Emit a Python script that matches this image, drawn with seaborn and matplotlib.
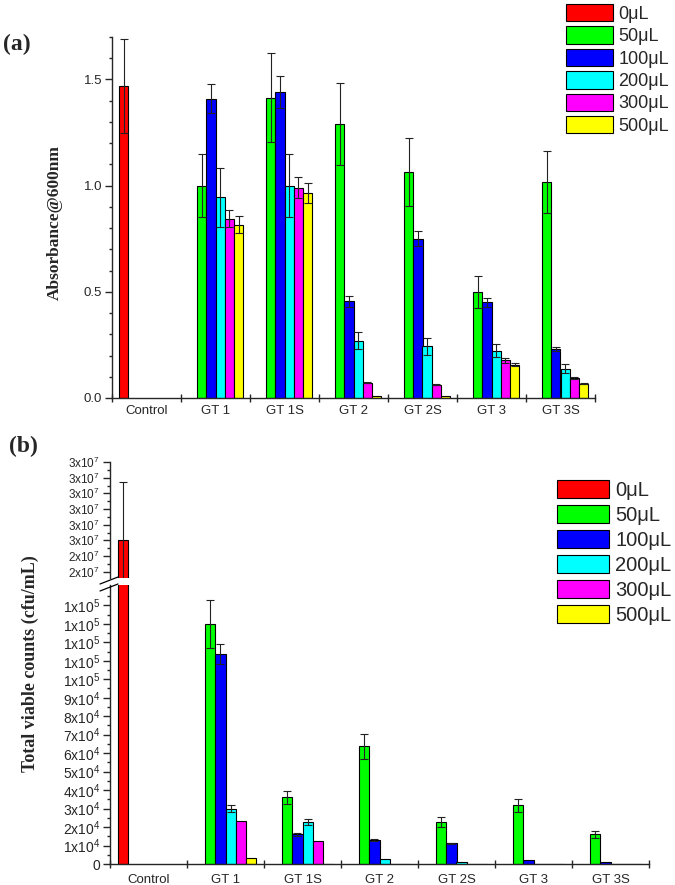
import numpy as np
import pandas as pd
import matplotlib
matplotlib.use("Agg")
import matplotlib.pyplot as plt
import matplotlib.patches as mpatches
from matplotlib.lines import Line2D
from matplotlib.ticker import MultipleLocator, FixedLocator, FuncFormatter
import seaborn as sns

# categories
samples = ["Control", "GT 1", "GT 1S", "GT 2", "GT 2S", "GT 3", "GT 3S"]
volumes = ["0μL", "50μL", "100μL", "200μL", "300μL", "500μL"]
colors = ["#FF0000", "#00FF00", "#0000FF", "#00FFFF", "#FF00FF", "#FFFF00"]

# (a) absorbance @600nm  (GT rows, columns 50..500 uL)
control_abs = 1.47
control_abs_err = 0.22
abs_gt1 = [1.00, 1.41, 0.945, 0.845, 0.815]
abs_gt1s = [1.415, 1.44, 1.00, 0.99, 0.965]
abs_gt2 = [1.29, 0.455, 0.27, 0.072, 0.008]
abs_gt2s = [1.063, 0.75, 0.243, 0.063, 0.008]
abs_gt3 = [0.50, 0.45, 0.223, 0.177, 0.157]
abs_gt3s = [1.017, 0.232, 0.138, 0.094, 0.068]
abs_err_gt1 = [0.15, 0.07, 0.14, 0.04, 0.04]
abs_err_gt1s = [0.21, 0.075, 0.15, 0.05, 0.047]
abs_err_gt2 = [0.195, 0.027, 0.04, 0.003, 0.0]
abs_err_gt2s = [0.16, 0.036, 0.04, 0.003, 0.0]
abs_err_gt3 = [0.075, 0.02, 0.03, 0.012, 0.008]
abs_err_gt3s = [0.148, 0.01, 0.02, 0.004, 0.004]

# (b) total viable counts (cfu/mL)
control_cfu = 2.5e7
control_cfu_err = 3.75e6
cfu_gt1 = [1.30e5, 1.137e5, 3.0e4, 2.32e4, 3.4e3]
cfu_gt1s = [3.6e4, 1.6e4, 2.28e4, 1.26e4, 0]
cfu_gt2 = [6.37e4, 1.31e4, 2.7e3, 0, 0]
cfu_gt2s = [2.27e4, 1.12e4, 1.0e3, 0, 0]
cfu_gt3 = [3.18e4, 2.2e3, 0, 0, 0]
cfu_gt3s = [1.6e4, 1.0e3, 0, 0, 0]
cfu_err_gt1 = [1.3e4, 5.5e3, 2.0e3, 0, 0]
cfu_err_gt1s = [3.6e3, 1.0e3, 1.6e3, 0, 0]
cfu_err_gt2 = [6.8e3, 500, 0, 0, 0]
cfu_err_gt2s = [2.5e3, 300, 0, 0, 0]
cfu_err_gt3 = [3.4e3, 0, 0, 0, 0]
cfu_err_gt3s = [1.8e3, 0, 0, 0, 0]


def long_table(control, control_err, rows, errs):
    recs = [("Control", volumes[0], control, control_err)]
    for s, vals, ers in zip(samples[1:], rows, errs):
        for v, val, er in zip(volumes[1:], vals, ers):
            recs.append((s, v, val, er))
    return pd.DataFrame(recs, columns=["sample", "volume", "value", "err"])


df_abs = long_table(control_abs, control_abs_err,
                    [abs_gt1, abs_gt1s, abs_gt2, abs_gt2s, abs_gt3, abs_gt3s],
                    [abs_err_gt1, abs_err_gt1s, abs_err_gt2, abs_err_gt2s, abs_err_gt3, abs_err_gt3s])
df_cfu = long_table(control_cfu, control_cfu_err,
                    [cfu_gt1, cfu_gt1s, cfu_gt2, cfu_gt2s, cfu_gt3, cfu_gt3s],
                    [cfu_err_gt1, cfu_err_gt1s, cfu_err_gt2, cfu_err_gt2s, cfu_err_gt3, cfu_err_gt3s])

palette = dict(zip(volumes, colors))

sns.set_style("ticks")
plt.rcParams["font.family"] = ["Liberation Sans", "DejaVu Sans"]
plt.rcParams["axes.linewidth"] = 1.0
serif = ["Liberation Serif", "DejaVu Serif"]

W, H = 675, 885
fig = plt.figure(figsize=(6.75, 8.85), dpi=100)


def px_axes(left, top, right, bottom):
    return fig.add_axes([left / W, 1 - bottom / H, (right - left) / W, (bottom - top) / H])


def draw_bars(ax, df):
    sns.barplot(data=df, x="sample", y="value", hue="volume", order=samples,
                hue_order=volumes, palette=palette, saturation=1, width=0.8,
                edgecolor="black", linewidth=0.8, errorbar=None, legend=False, ax=ax)
    slot = 0.8 / len(volumes)
    errs = {(r.sample, r.volume): r.err for r in df.itertuples()}
    for bar in ax.patches:
        if bar is None:
            continue
        xc = bar.get_x() + bar.get_width() / 2
        i = int(round(xc))
        j = int(round((xc - i + 0.4) / slot - 0.5))
        e = errs.get((samples[i], volumes[j]), 0)
        if e > 0:
            ax.errorbar(xc, bar.get_height(), yerr=e, fmt="none", ecolor="#222222",
                        elinewidth=0.8, capsize=3, capthick=0.8)
    ax.set_xlabel("")
    ax.set_ylabel("")


def style_x(ax, pad):
    ax.set_xlim(-0.5, 6.5)
    ax.set_xticks(np.arange(-0.5, 7, 1))
    ax.set_xticklabels([])
    ax.set_xticks(np.arange(7), minor=True)
    ax.set_xticklabels(samples, minor=True, fontsize=9.5)
    ax.tick_params(axis="x", which="major", direction="inout", length=6, width=1)
    ax.tick_params(axis="x", which="minor", length=0, pad=pad)


# ---------- panel (a)
ax_a = px_axes(112, 37, 595, 398)
draw_bars(ax_a, df_abs)
ax_a.set_ylim(0, 1.7)
ax_a.yaxis.set_major_locator(MultipleLocator(0.5))
ax_a.yaxis.set_minor_locator(MultipleLocator(0.1))
ax_a.yaxis.set_major_formatter(FuncFormatter(lambda v, p: f"{v:.1f}"))
ax_a.tick_params(axis="y", which="major", direction="out", length=5, width=1, labelsize=9.5, pad=2)
ax_a.tick_params(axis="y", which="minor", direction="out", length=2.5, width=1)
style_x(ax_a, 5)
sns.despine(ax=ax_a)

fig.text(55 / W, 1 - 222 / H, "Absorbance@600nm", rotation=90, ha="center", va="center",
         fontsize=12.5, fontweight="bold", family=serif)
fig.text(3 / W, 1 - 34 / H, "(a)", ha="left", va="top", fontsize=17, fontweight="bold", family=serif)

handles = [mpatches.Patch(facecolor=c, edgecolor="black", linewidth=0.8, label=v)
           for c, v in zip(colors, volumes)]
fig.legend(handles=handles, loc="upper left", bbox_to_anchor=(566 / W, 1 - 4 / H),
           frameon=False, fontsize=13, handlelength=2.6, handleheight=1.1,
           labelspacing=0.2, handletextpad=0.3, borderpad=0, borderaxespad=0)


# ---------- panel (b), broken axis
def sci_label(v, pos):
    if v <= 0:
        return "0"
    e = int(np.floor(np.log10(v) + 1e-9))
    m = int(v / 10 ** e + 0.5)
    return r"$\mathregular{%dx10^{%d}}$" % (m, e)


ax_t = px_axes(110, 462, 649, 578)
ax_b = px_axes(110, 585, 649, 864)
for ax, fs in ((ax_t, 8.5), (ax_b, 10)):
    draw_bars(ax, df_cfu)
    ax.yaxis.set_major_formatter(FuncFormatter(sci_label))
    ax.tick_params(axis="y", which="major", direction="out", length=5, width=1, labelsize=fs, pad=2)
    ax.tick_params(axis="y", which="minor", direction="out", length=2.5, width=1)
    sns.despine(ax=ax)

ax_t.set_ylim(2.26e7, 3.0e7)
ax_t.yaxis.set_major_locator(MultipleLocator(1e6))
ax_t.yaxis.set_minor_locator(MultipleLocator(5e5))
ax_t.set_xlim(-0.5, 6.5)
ax_t.spines["bottom"].set_visible(False)
ax_t.set_xticks([])
ax_t.set_xticks([], minor=True)

ax_b.set_ylim(0, 1.51e5)
ax_b.yaxis.set_major_locator(FixedLocator(np.arange(0, 1.41e5, 1e4)))
ax_b.yaxis.set_minor_locator(FixedLocator(np.arange(5e3, 1.5e5, 1e4)))
style_x(ax_b, 7)

# break marks "//" across the left spine
for (x0, y0, x1, y1) in ((100, 584, 118, 577), (100, 591, 118, 584)):
    fig.add_artist(Line2D([x0 / W, x1 / W], [1 - y0 / H, 1 - y1 / H], color="black", lw=0.9))

fig.text(30 / W, 1 - 664 / H, "Total viable counts (cfu/mL)", rotation=90, ha="center",
         va="center", fontsize=13, fontweight="bold", family=serif)
fig.text(9 / W, 1 - 436 / H, "(b)", ha="left", va="top", fontsize=17, fontweight="bold", family=serif)

fig.legend(handles=handles, loc="upper left", bbox_to_anchor=(557 / W, 1 - 480 / H),
           frameon=False, fontsize=14.5, handlelength=2.6, handleheight=1.0,
           labelspacing=0.25, handletextpad=0.3, borderpad=0, borderaxespad=0)

fig.savefig("out.png", dpi=100)
